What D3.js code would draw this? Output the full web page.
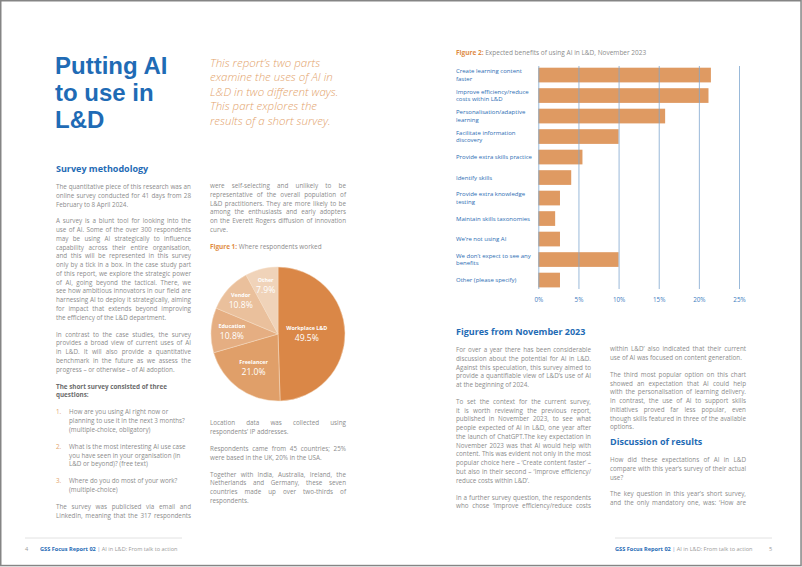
<!DOCTYPE html>
<html><head><meta charset="utf-8">
<script src="https://cdn.jsdelivr.net/npm/d3@7"></script>
<style>
html,body{margin:0;padding:0;background:#fff;}
svg{display:block;}
</style></head><body>
<script>
// ---------- DATA ----------
const benefitCategories = [
  "Create learning content\nfaster",
  "Improve efficiency/reduce\ncosts within L&D",
  "Personalisation/adaptive\nlearning",
  "Facilitate information\ndiscovery",
  "Provide extra skills practice",
  "Identify skills",
  "Provide extra knowledge\ntesting",
  "Maintain skills taxonomies",
  "We\u2019re not using AI",
  "We don\u2019t expect to see any\nbenefits",
  "Other (please specify)"
];
const benefitValues = [21.5, 21.2, 15.8, 10.0, 5.5, 4.1, 2.7, 2.1, 2.7, 10.0, 2.7];
const benefitTicks = [0, 5, 10, 15, 20, 25];

const workplaceCategories = ["Workplace L&D", "Freelancer", "Education", "Vendor", "Other"];
const workplaceShares = [49.5, 21.0, 10.8, 10.8, 7.9];

// ---------- TEXT CONTENT ----------
const titleLines = ["Putting AI", "to use in", "L&D"];
const introLines = ["This report\u2019s two parts", "examine the uses of AI in", "L&D in two different ways.",
  "This part explores the", "results of a short survey."];
const leftCol1 = [
  {t:"h", text:"Survey methodology"},
  {t:"p", lines:["The quantitative piece of this research was an","online survey conducted for 41 days from 28","February to 8 April 2024."]},
  {t:"p", lines:["A survey is a blunt tool for looking into the","use of AI. Some of the over 300 respondents","may be using AI strategically to influence","capability across their entire organisation,","and this will be represented in this survey","only by a tick in a box. In the case study part","of this report, we explore the strategic power","of AI, going beyond the tactical. There, we","see how ambitious innovators in our field are","harnessing AI to deploy it strategically, aiming","for impact that extends beyond improving","the efficiency of the L&D department."]},
  {t:"p", lines:["In contrast to the case studies, the survey","provides a broad view of current uses of AI","in L&D. It will also provide a quantitative","benchmark in the future as we assess the","progress \u2013 or otherwise \u2013 of AI adoption."]},
  {t:"b", lines:["The short survey consisted of three","questions:"]},
  {t:"li", num:"1.", lines:["How are you using AI right now or","planning to use it in the next 3 months?","(multiple-choice, obligatory)"]},
  {t:"li", num:"2.", lines:["What is the most interesting AI use case","you have seen in your organisation (in","L&D or beyond)? (free text)"]},
  {t:"li", num:"3.", lines:["Where do you do most of your work?","(multiple-choice)"]},
  {t:"p", lines:["The survey was publicised via email and","LinkedIn, meaning that the 317 respondents"], cont:true}
];
const leftCol2a = [
  {t:"p", lines:["were self-selecting and unlikely to be","representative of the overall population of","L&D practitioners. They are more likely to be","among the enthusiasts and early adopters","on the Everett Rogers diffusion of innovation","curve."]}
];
const leftCol2b = [
  {t:"p", lines:["Location data was collected using","respondents\u2019 IP addresses."]},
  {t:"p", lines:["Respondents came from 45 countries; 25%","were based in the UK, 20% in the USA."]},
  {t:"p", lines:["Together with India, Australia, Ireland, the","Netherlands and Germany, these seven","countries made up over two-thirds of","respondents."]}
];
const rightCol1 = [
  {t:"h", text:"Figures from November 2023"},
  {t:"p", lines:["For over a year there has been considerable","discussion about the potential for AI in L&D.","Against this speculation, this survey aimed to","provide a quantifiable view of L&D\u2019s use of AI","at the beginning of 2024."]},
  {t:"p", lines:["To set the context for the current survey,","it is worth reviewing the previous report,","published in November 2023, to see what","people expected of AI in L&D, one year after","the launch of ChatGPT.The key expectation in","November 2023 was that AI would help with","content. This was evident not only in the most","popular choice here \u2013 \u2018Create content faster\u2019 \u2013","but also in their second \u2013 \u2018Improve efficiency/","reduce costs within L&D\u2019."]},
  {t:"p", lines:["In a further survey question, the respondents","who chose \u2018Improve efficiency/reduce costs"], cont:true}
];
const rightCol2a = [
  {t:"p", lines:["within L&D\u2019 also indicated that their current","use of AI was focused on content generation."]},
  {t:"p", lines:["The third most popular option on this chart","showed an expectation that AI could help","with the personalisation of learning delivery.","In contrast, the use of AI to support skills","initiatives proved far less popular, even","though skills featured in three of the available","options."]}
];
const rightCol2b = [
  {t:"h", text:"Discussion of results"},
  {t:"p", lines:["How did these expectations of AI in L&D","compare with this year\u2019s survey of their actual","use?"]},
  {t:"p", lines:["The key question in this year\u2019s short survey,","and the only mandatory one, was: \u2018How are"], cont:true}
];

// ---------- STYLE ----------
const W = 802, H = 567;
const FONT = "'Open Sans', 'DejaVu Sans', sans-serif";
const BLUE = "#1f6bb5", GREY = "#8c8c8c", DGREY = "#6c6c6c", ORANGE = "#e08c44", LORANGE = "#e3a36c";
const BODY = 6.3, LH = 8.75, PGAP = 8.2;

const svg = d3.select("body").append("svg").attr("width", W).attr("height", H)
  .style("font-family", FONT);

svg.append("rect").attr("x",0.75).attr("y",0.75).attr("width",800.3).attr("height",564.8)
  .attr("fill","#fff").attr("stroke","#858585").attr("stroke-width",1.5);

function justify(sel, width) {
  const node = sel.node();
  const nat = node.getComputedTextLength();
  const spaces = (sel.text().match(/ /g) || []).length;
  if (nat > width) sel.attr("textLength", width).attr("lengthAdjust", "spacingAndGlyphs");
  else if (spaces > 0) sel.style("word-spacing", ((width - nat) / spaces) + "px");
}

function flow(items, x, y, w) {
  let cy = y;
  items.forEach((it) => {
    if (it.t === "h") {
      svg.append("text").attr("x", x).attr("y", cy).attr("fill", BLUE)
        .attr("font-size", 9).attr("font-weight", 700).text(it.text);
      cy += 17.5;
      return;
    }
    it.lines.forEach((ln, j) => {
      if (it.t === "li") {
        if (j === 0) svg.append("text").attr("x", x).attr("y", cy).attr("fill", LORANGE)
          .attr("font-size", BODY).text(it.num);
        svg.append("text").attr("x", x + 13).attr("y", cy).attr("fill", GREY)
          .attr("font-size", BODY).text(ln);
      } else {
        const t = svg.append("text").attr("x", x).attr("y", cy)
          .attr("fill", it.t === "b" ? DGREY : GREY)
          .attr("font-size", BODY).attr("font-weight", it.t === "b" ? 700 : 400).text(ln);
        const last = j === it.lines.length - 1;
        if (it.t === "p" && (!last || it.cont)) justify(t, w);
      }
      cy += LH;
    });
    cy += PGAP;
  });
}

// ---------- LEFT PAGE ----------
titleLines.forEach((s, i) => {
  svg.append("text").attr("x", 55).attr("y", 74 + i * 27).attr("fill", BLUE)
    .attr("font-family", "'Liberation Sans', Arial, sans-serif")
    .attr("font-size", 24).attr("font-weight", 700).text(s);
});
{
  const t = svg.append("text").attr("fill", LORANGE).attr("font-size", 11.5)
    .attr("font-style", "italic").attr("font-weight", 300);
  introLines.forEach((s, i) => {
    t.append("tspan").attr("x", 210).attr("y", 67 + i * 14.4).text(s);
  });
}

flow(leftCol1, 56, 171.5, 135);
flow(leftCol2a, 210, 188.2, 136);
flow(leftCol2b, 210, 425.2, 136);

{
  const t = svg.append("text").attr("x", 210).attr("y", 248.5).attr("font-size", 6.4);
  t.append("tspan").attr("fill", ORANGE).attr("font-weight", 700).text("Figure 1: ");
  t.append("tspan").attr("fill", GREY).text("Where respondents worked");
}

// ---------- PIE ----------
{
  const cx = 278, cy = 334, r = 67;
  const pieColors = ["#da8747", "#e09f69", "#e5ae82", "#eac09c", "#f0d3b9"];
  const labelR = [0.43, 0.62, 0.69, 0.75, 0.75];
  const pie = d3.pie().sort(null).value(d => d)(workplaceShares);
  const arc = d3.arc().innerRadius(0).outerRadius(r);
  const g = svg.append("g").attr("transform", `translate(${cx},${cy})`);
  g.selectAll("path").data(pie).join("path").attr("d", arc)
    .attr("fill", (d, i) => pieColors[i]).attr("stroke", "#f4dcc5").attr("stroke-width", 0.5);
  pie.forEach((d, i) => {
    const a = (d.startAngle + d.endAngle) / 2, rr = r * labelR[i];
    const x = Math.sin(a) * rr, y = -Math.cos(a) * rr;
    g.append("text").attr("x", x).attr("y", y - 3.2).attr("text-anchor", "middle")
      .attr("fill", "#fff").attr("font-size", 5.4).attr("font-weight", 700).text(workplaceCategories[i]);
    g.append("text").attr("x", x).attr("y", y + 7.6).attr("text-anchor", "middle")
      .attr("fill", "#fff").attr("font-size", 8.6).text(workplaceShares[i].toFixed(1) + "%");
  });
}

// ---------- RIGHT PAGE: BAR CHART ----------
{
  const t = svg.append("text").attr("x", 456).attr("y", 54.5).attr("font-size", 6.5);
  t.append("tspan").attr("fill", ORANGE).attr("font-weight", 700).text("Figure 2: ");
  t.append("tspan").attr("fill", GREY).text("Expected benefits of using AI in L&D, November 2023");

  const x = d3.scaleLinear().domain([0, 25]).range([538.3, 739]);
  const y = d3.scaleBand().domain(d3.range(benefitCategories.length))
    .range([64.8, 290.3]).paddingInner(0.283).paddingOuter(0.1415);
  const g = svg.append("g");
  g.selectAll("rect.bar").data(benefitValues).join("rect").attr("class", "bar")
    .attr("x", x(0)).attr("y", (d, i) => y(i)).attr("height", y.bandwidth())
    .attr("width", d => x(d) - x(0)).attr("fill", "#df9a62");

  const ax = g.append("g").attr("transform", "translate(0,289)")
    .call(d3.axisBottom(x).tickValues(benefitTicks).tickFormat(d => d + "%")
      .tickSize(-(289 - 66)).tickPadding(9));
  ax.select(".domain").remove();
  ax.selectAll(".tick line").attr("stroke", "#7fa7d0").attr("stroke-opacity", 0.8).attr("stroke-width", 1);
  ax.selectAll(".tick text").attr("fill", "#3d7cc0").attr("font-size", BODY).attr("font-family", FONT);

  benefitCategories.forEach((c, i) => {
    const lines = c.split("\n");
    const mid = y(i) + y.bandwidth() / 2 + 2.1;
    const t = g.append("text").attr("fill", "#2c6db3").attr("font-size", 6);
    lines.forEach((ln, j) => {
      t.append("tspan").attr("x", 456).attr("y", mid + (j - (lines.length - 1) / 2) * 7.4).text(ln);
    });
  });
}

flow(rightCol1, 456, 334.5, 135);
flow(rightCol2a, 610, 351.2, 136);
flow(rightCol2b, 610, 444.5, 136);

// ---------- FOOTERS ----------
svg.append("line").attr("x1", 25).attr("x2", 182).attr("y1", 538).attr("y2", 538).attr("stroke", "#e2e2e2");
svg.append("line").attr("x1", 615).attr("x2", 772).attr("y1", 538).attr("y2", 538).attr("stroke", "#e2e2e2");
function footText(x) {
  const t = svg.append("text").attr("x", x).attr("y", 550.5).attr("font-size", 5.6);
  t.append("tspan").attr("fill", BLUE).attr("font-weight", 700).text("GSS Focus Report 02 ");
  t.append("tspan").attr("fill", "#5b8fc9").text("| ");
  t.append("tspan").attr("fill", "#9a9a9a").text("AI in L&D: From talk to action");
}
footText(40); footText(615);
svg.append("text").attr("x", 25).attr("y", 550.5).attr("font-size", 5.6).attr("fill", "#9a9a9a").text("4");
svg.append("text").attr("x", 769).attr("y", 550.5).attr("font-size", 5.6).attr("fill", "#9a9a9a").text("5");
</script>
</body></html>
